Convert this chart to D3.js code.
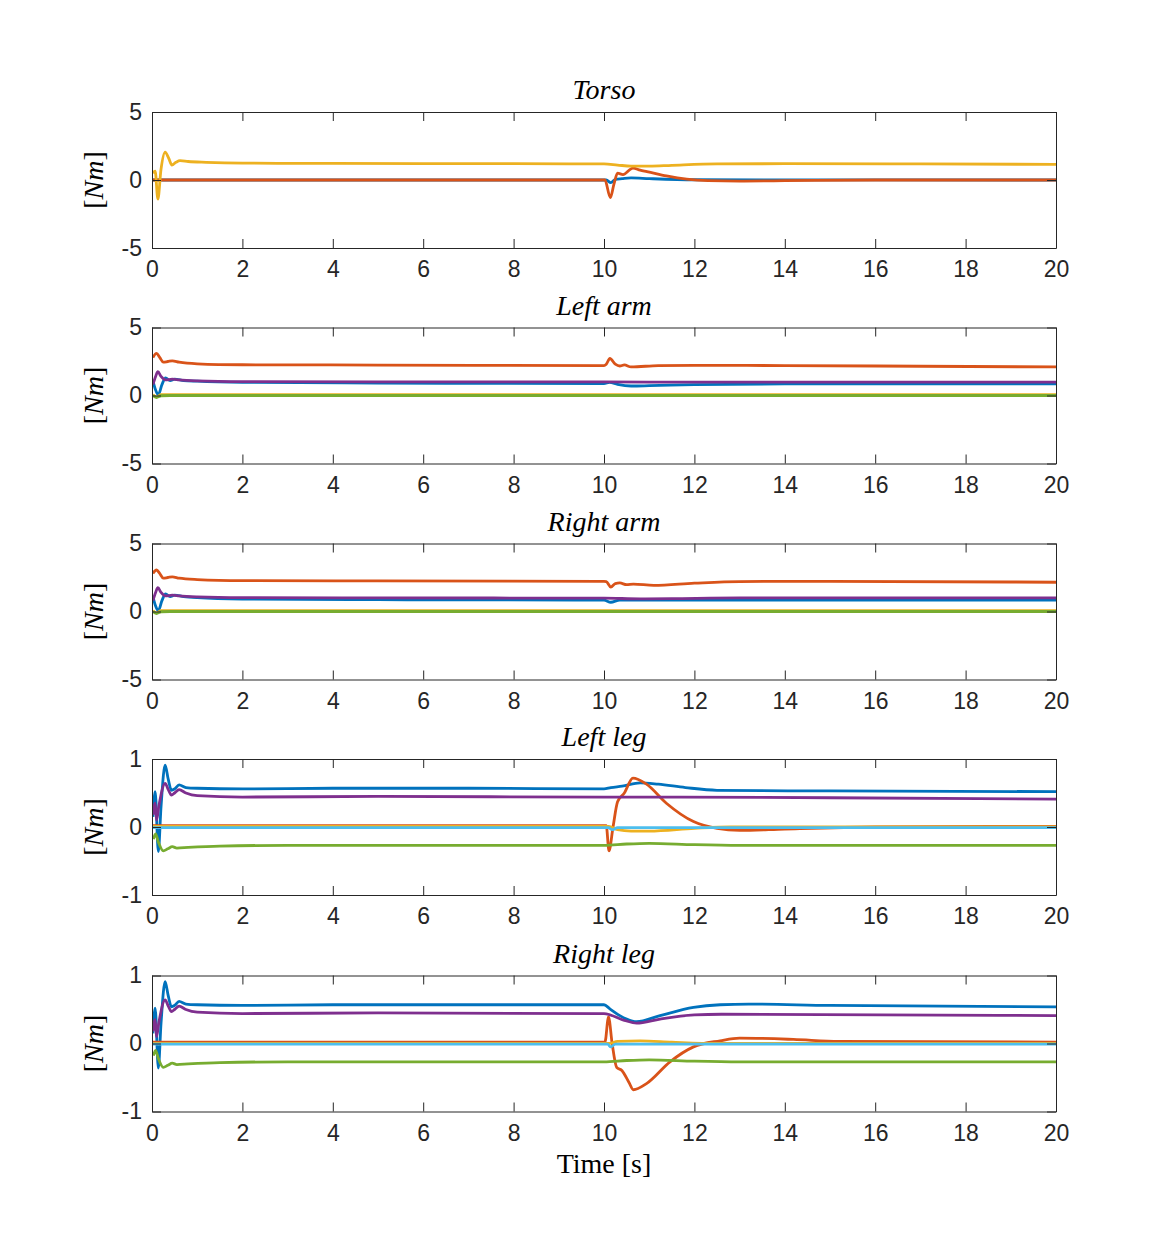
<!DOCTYPE html>
<html>
<head>
<meta charset="utf-8">
<script src="https://cdn.jsdelivr.net/npm/d3@7"></script>
<style>
  body { margin: 0; background: #ffffff; }
</style>
</head>
<body>
<script>

// ---- data (time [s], torque [Nm]) ----

var panel_titles = ["Torso", "Left arm", "Right arm", "Left leg", "Right leg"];
var panel_ylims = [[-5, 5], [-5, 5], [-5, 5], [-1, 1], [-1, 1]];
var panel_yticks = [[-5, 0, 5], [-5, 0, 5], [-5, 0, 5], [-1, 0, 1], [-1, 0, 1]];
var x_ticks = [0, 2, 4, 6, 8, 10, 12, 14, 16, 18, 20];

// Torso
var torsoBlue = [[0,0],[10.05,0],[10.15,-0.2],[10.25,0.05],[10.4,0.1],[10.6,0.15],[11,0.1],[12,0.02],[20,0]];
var torsoOrange = [[0,0],[10.02,0],[10.14,-1.3],[10.22,-0.3],[10.3,0.5],[10.42,0.4],[10.64,0.88],[10.8,0.72],[10.95,0.62],[11.38,0.3],[11.83,0.06],[12.3,-0.05],[13,-0.08],[14,-0.05],[16,0],[20,0]];
var torsoYellow = [[0.02,0.5],[0.07,0.65],[0.13,-1.4],[0.2,0.8],[0.29,2.05],[0.37,1.6],[0.44,1.1],[0.53,1.3],[0.62,1.42],[0.8,1.36],[1.2,1.3],[2,1.24],[4,1.22],[8,1.2],[10,1.18],[10.3,1.1],[10.6,1.02],[11,1.02],[11.5,1.08],[12.5,1.18],[14,1.2],[17,1.18],[20,1.15]];

// Left arm
var laBlue = [[0.02,1.1],[0.08,0.4],[0.14,0.05],[0.22,0.8],[0.3,1.3],[0.4,1.1],[0.5,1.2],[0.7,1.1],[1,1.05],[2,0.97],[5,0.92],[10,0.88],[10.12,0.97],[10.3,0.82],[10.6,0.7],[11,0.72],[12,0.8],[14,0.85],[20,0.85]];
var laOrange = [[0.02,2.8],[0.1,3.1],[0.17,2.8],[0.25,2.45],[0.35,2.5],[0.45,2.55],[0.6,2.45],[1,2.33],[2,2.26],[5,2.24],[10,2.2],[10.05,2.3],[10.13,2.72],[10.25,2.3],[10.35,2.17],[10.45,2.25],[10.6,2.1],[11.2,2.2],[12,2.22],[14,2.2],[17,2.15],[20,2.1]];
var laYellow = [[0.02,0.05],[0.1,-0.1],[0.2,0.06],[20,0.06]];
var laPurple = [[0.02,0.8],[0.08,1.4],[0.13,1.75],[0.2,1.4],[0.3,1.15],[0.45,1.2],[0.6,1.15],[1,1.08],[2,1.02],[5,1.0],[10,1.0],[12,0.98],[20,0.98]];
var laGreen = [[0.02,0],[0.1,-0.15],[0.2,-0.02],[0.4,0],[20,0]];

// Right arm
var raBlue = [[0.02,1.1],[0.08,0.4],[0.14,0.05],[0.22,0.8],[0.3,1.3],[0.4,1.1],[0.5,1.2],[0.7,1.1],[1,1.02],[2,0.92],[5,0.87],[10,0.84],[10.15,0.68],[10.35,0.84],[12,0.84],[20,0.83]];
var raOrange = [[0.02,2.8],[0.1,3.05],[0.17,2.8],[0.25,2.45],[0.35,2.5],[0.45,2.55],[0.6,2.45],[1,2.35],[2,2.27],[5,2.25],[10,2.22],[10.05,2.2],[10.15,1.8],[10.25,2.05],[10.35,2.1],[10.5,1.97],[10.65,2.02],[11.1,1.92],[12,2.08],[13,2.2],[15,2.22],[20,2.15]];
var raYellow = [[0.02,0.05],[0.1,-0.1],[0.2,0.06],[20,0.06]];
var raPurple = [[0.02,0.8],[0.08,1.4],[0.13,1.75],[0.2,1.4],[0.3,1.15],[0.45,1.2],[0.6,1.15],[1,1.08],[2,1.02],[5,1.0],[10,0.98],[10.8,0.93],[11.5,0.95],[13,1.0],[20,1.0]];
var raGreen = [[0.02,0],[0.1,-0.15],[0.2,-0.02],[0.4,0],[20,0]];

// Left leg
var llBlue = [[0.02,0.15],[0.07,0.52],[0.14,-0.36],[0.2,0.3],[0.29,0.91],[0.36,0.7],[0.43,0.54],[0.5,0.56],[0.6,0.62],[0.75,0.58],[1,0.57],[2,0.56],[4,0.57],[7,0.57],[10,0.56],[10.15,0.58],[10.4,0.6],[10.8,0.65],[11.2,0.63],[11.8,0.58],[12.5,0.54],[15,0.53],[20,0.52]];
var llOrange = [[0,0.02],[10.05,0.02],[10.11,-0.35],[10.2,0.0],[10.3,0.37],[10.45,0.5],[10.64,0.72],[10.94,0.63],[11.38,0.35],[11.98,0.08],[12.5,-0.02],[13,-0.05],[14,-0.03],[16,0.0],[20,0.01]];
var llYellow = [[0,0.01],[10.1,0.01],[10.3,-0.04],[10.6,-0.06],[11,-0.06],[12,-0.02],[12.8,0],[20,0]];
var llPurple = [[0.02,0.18],[0.07,0.35],[0.1,0.1],[0.15,0.3],[0.29,0.64],[0.36,0.55],[0.43,0.47],[0.5,0.5],[0.6,0.55],[0.75,0.5],[1,0.46],[2,0.44],[5,0.45],[10,0.44],[11,0.44],[15,0.43],[20,0.41]];
var llGreen = [[0.03,-0.18],[0.08,-0.1],[0.14,-0.22],[0.25,-0.35],[0.35,-0.32],[0.45,-0.29],[0.55,-0.31],[0.8,-0.3],[1.5,-0.28],[3,-0.27],[10,-0.27],[10.5,-0.25],[11,-0.24],[12,-0.26],[13,-0.27],[20,-0.27]];
var llCyan = [[0,-0.01],[10.1,-0.01],[10.18,-0.04],[10.3,-0.01],[20,-0.01]];

// Right leg
var rlBlue = [[0.02,0.15],[0.07,0.52],[0.14,-0.36],[0.2,0.3],[0.29,0.91],[0.36,0.7],[0.43,0.54],[0.5,0.56],[0.6,0.62],[0.75,0.58],[1,0.57],[2,0.56],[4,0.57],[7,0.57],[10,0.57],[10.13,0.51],[10.35,0.41],[10.5,0.36],[10.72,0.32],[11.24,0.41],[11.98,0.53],[12.57,0.57],[13.2,0.58],[15,0.56],[20,0.54]];
var rlOrange = [[0,0.02],[10.02,0.02],[10.1,0.39],[10.18,0.0],[10.28,-0.35],[10.4,-0.4],[10.55,-0.57],[10.65,-0.68],[10.94,-0.59],[11.46,-0.27],[11.98,-0.05],[12.57,0.04],[13,0.08],[14.19,0.06],[15.2,0.03],[20,0.02]];
var rlYellow = [[0,0],[10.1,0],[10.3,0.03],[10.8,0.04],[11.5,0.02],[12.5,0],[20,0]];
var rlPurple = [[0.02,0.18],[0.07,0.35],[0.1,0.1],[0.15,0.3],[0.29,0.64],[0.36,0.55],[0.43,0.47],[0.5,0.5],[0.6,0.55],[0.75,0.5],[1,0.46],[2,0.44],[5,0.45],[10,0.44],[10.45,0.34],[10.72,0.3],[11.24,0.36],[12,0.42],[12.6,0.43],[20,0.41]];
var rlGreen = [[0.03,-0.18],[0.08,-0.1],[0.14,-0.22],[0.25,-0.35],[0.35,-0.32],[0.45,-0.29],[0.55,-0.31],[0.8,-0.3],[1.5,-0.28],[3,-0.27],[10,-0.27],[10.5,-0.25],[11,-0.24],[12,-0.26],[13,-0.27],[20,-0.27]];
var rlCyan = [[0,-0.01],[10.08,-0.01],[10.15,-0.05],[10.25,-0.01],[20,-0.01]];

var series_colors = { blue: "#0072bd", orange: "#d95319", yellow: "#edb120", purple: "#7e2f8e", green: "#77ac30", cyan: "#4dbeee" };

// MATLAB draw order: blue, orange, yellow, purple, green, cyan
var panel_series = [
  [["blue", torsoBlue], ["orange", torsoOrange], ["yellow", torsoYellow]],
  [["blue", laBlue], ["orange", laOrange], ["yellow", laYellow], ["purple", laPurple], ["green", laGreen]],
  [["blue", raBlue], ["orange", raOrange], ["yellow", raYellow], ["purple", raPurple], ["green", raGreen]],
  [["blue", llBlue], ["orange", llOrange], ["yellow", llYellow], ["purple", llPurple], ["green", llGreen], ["cyan", llCyan]],
  [["blue", rlBlue], ["orange", rlOrange], ["yellow", rlYellow], ["purple", rlPurple], ["green", rlGreen], ["cyan", rlCyan]]
];

// ---- layout ----
var svg_width = 1167, svg_height = 1250;
var plot_left = 152, plot_width = 904, plot_height = 136;
var panel_tops = [112, 327.5, 543.5, 759, 975.5];
var axis_color = "#262626";
var tick_font = "'Liberation Sans', Arial, sans-serif";
var serif_font = "'Liberation Serif', 'Times New Roman', serif";

var svg = d3.select("body").append("svg")
            .attr("width", svg_width)
            .attr("height", svg_height);

svg.append("rect").attr("width", svg_width).attr("height", svg_height).style("fill", "#ffffff");

var xScale = d3.scaleLinear().domain([0, 20]).range([0, plot_width]);

panel_titles.forEach(function(title, i)
{
  var yScale = d3.scaleLinear().domain(panel_ylims[i]).range([plot_height, 0]);

  var g = svg.append("g")
             .attr("class", "panel")
             .attr("transform", "translate(" + plot_left + "," + panel_tops[i] + ")");

  // lines
  var line = d3.line()
               .x(function(d) { return xScale(d[0]); })
               .y(function(d) { return yScale(d[1]); })
               .curve(d3.curveMonotoneX);

  var clipId = "clip" + i;
  g.append("clipPath").attr("id", clipId)
   .append("rect").attr("width", plot_width).attr("height", plot_height);

  g.append("g").attr("clip-path", "url(#" + clipId + ")")
   .selectAll("path")
   .data(panel_series[i])
   .enter().append("path")
   .attr("d", function(s) { return line(s[1]); })
   .style("fill", "none")
   .style("stroke", function(s) { return series_colors[s[0]]; })
   .style("stroke-width", 2.8)
   .style("stroke-linejoin", "round");

  // axes (ticks point inwards, box on)
  var xBottom = d3.axisBottom(xScale).tickValues(x_ticks).tickSizeInner(-9).tickSizeOuter(0).tickPadding(13);
  var xTop = d3.axisTop(xScale).tickValues(x_ticks).tickSizeInner(-9).tickSizeOuter(0).tickFormat("");
  var yLeft = d3.axisLeft(yScale).tickValues(panel_yticks[i]).tickSizeInner(-9).tickSizeOuter(0).tickPadding(10)
                .tickFormat(function(d) { return String(d); });
  var yRight = d3.axisRight(yScale).tickValues(panel_yticks[i]).tickSizeInner(-9).tickSizeOuter(0).tickFormat("");

  g.append("g").attr("transform", "translate(0," + plot_height + ")").call(xBottom);
  g.append("g").call(xTop);
  g.append("g").call(yLeft);
  g.append("g").attr("transform", "translate(" + plot_width + ",0)").call(yRight);

  g.selectAll(".domain, .tick line").style("stroke", axis_color).style("stroke-width", 1);
  g.selectAll(".tick text")
   .style("font-family", tick_font)
   .style("font-size", "23px")
   .style("fill", axis_color);

  // title
  g.append("text")
   .attr("x", plot_width / 2)
   .attr("y", -13)
   .attr("text-anchor", "middle")
   .style("font-family", serif_font)
   .style("font-style", "italic")
   .style("font-size", "28px")
   .style("fill", "#000")
   .text(title);

  // y label [Nm]
  var ylab = g.append("text")
              .attr("text-anchor", "middle")
              .attr("transform", "translate(-49," + (plot_height / 2) + ") rotate(-90)")
              .style("font-family", serif_font)
              .style("font-size", "28px")
              .style("fill", "#000");
  ylab.append("tspan").text("[");
  ylab.append("tspan").style("font-style", "italic").text("Nm");
  ylab.append("tspan").text("]");
});

// x label
svg.append("text")
   .attr("x", plot_left + plot_width / 2)
   .attr("y", 1173)
   .attr("text-anchor", "middle")
   .style("font-family", serif_font)
   .style("font-size", "28px")
   .style("fill", "#000")
   .text("Time [s]");

</script>
</body>
</html>
